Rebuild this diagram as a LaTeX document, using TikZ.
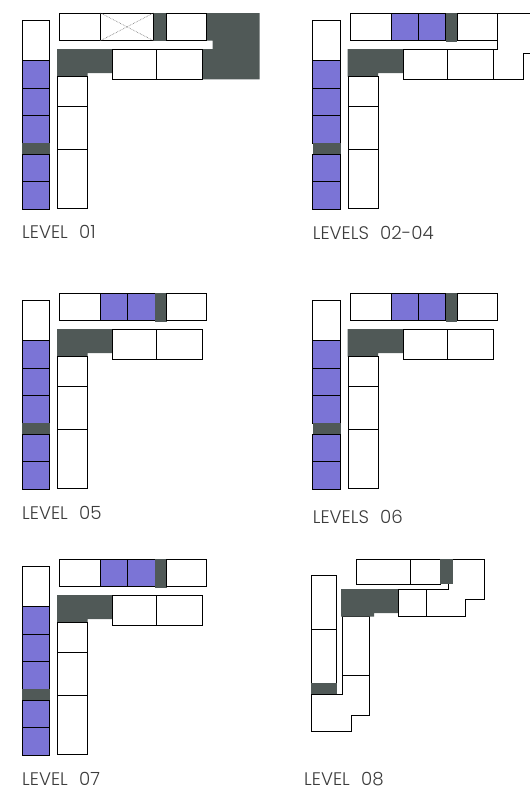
\documentclass[tikz,border=0pt]{standalone}
\usepackage{fontspec}
\setmainfont{Poppins Light}
\definecolor{unitblue}{HTML}{7B74D6}
\definecolor{coredark}{HTML}{505957}
\definecolor{labelgrey}{HTML}{3C3C3C}
\tikzset{
  unit/.style={draw=black,line width=0.8pt,fill=white},
  purpleunit/.style={draw=black,line width=0.8pt,fill=unitblue},
  core/.style={fill=coredark,draw=none},
  outline/.style={draw=black,line width=0.8pt},
  voidcross/.style={draw=black!55,line width=0.6pt,densely dotted},
  levellabel/.style={anchor=base west,inner sep=0pt,text=labelgrey,font=\fontsize{18.2}{20}\selectfont},
  % left column, inner column and corner core shared by levels 01 to 07
  pics/wing/.style={code={
    \path[unit] (22,20.3) rectangle (49.5,60.5);
    \path[purpleunit] (22,60.5) rectangle (49.5,88);
    \path[purpleunit] (22,88) rectangle (49.5,115);
    \path[purpleunit] (22,115) rectangle (49.5,143);
    \path[core] (22,143) rectangle (49.8,154.5);
    \path[purpleunit] (22,154.5) rectangle (49.5,181.5);
    \path[purpleunit] (22,181.5) rectangle (49.5,209.5);
    \path[core] (57,49) -- (112.5,49) -- (112.5,73) -- (87.5,73) -- (87.5,76.5) -- (57,76.5) -- cycle;
    \path[unit] (57.5,76.5) rectangle (87.3,106.5);
    \path[unit] (57.5,106.5) rectangle (87.3,149);
    \path[unit] (57.5,149) rectangle (87.3,208.5);
    \path[unit] (112.5,49) rectangle (156.5,79.5);
    \path[unit] (156.5,49) rectangle (202.5,79.5);
  }},
  pics/toprow/.style={code={
    \path[unit] (59.5,13) rectangle (100.5,40.7);
    \path[purpleunit] (100.5,13) rectangle (127.5,40.7);
    \path[purpleunit] (127.5,13) rectangle (155,40.7);
    \path[core] (155,12.6) rectangle (166.6,41.8);
    \path[unit] (166.6,13) rectangle (206.7,40.7);
  }}
}
\begin{document}
\begin{tikzpicture}[x=1pt,y=-1pt]
\useasboundingbox (0,0) rectangle (530,793);
% LEVEL 01
\path[core] (206.5,13) -- (259.5,13) -- (259.5,79.3) -- (202.5,79.3) -- (202.5,49) -- (212.5,49) -- (212.5,40.7) -- (206.5,40.7) -- cycle;
\pic at (0,0) {wing};
\path[core] (153.5,13) rectangle (166.6,40.7);
\path[unit] (59.5,13) rectangle (100.5,40.7);
\path[unit] (100.5,13) rectangle (153.5,40.7);
\path[voidcross] (100.5,13) -- (153.5,40.7) (100.5,40.7) -- (153.5,13);
\path[unit] (166.6,13) rectangle (206.7,40.7);
\node[levellabel] (l1) at (22,238) {LEVEL\hspace{0.62em}01};
% LEVELS 02-04
\pic at (290.7,0) {wing};
\pic at (290.7,0) {toprow};
\path[unit] (447.2,49) rectangle (493.3,79.5);
\path[outline] (497.4,13) -- (530,13);
\path[outline] (497.4,40.7) -- (497.4,49) -- (447.2,49);
\path[outline] (493.3,79.5) -- (523.7,79.5) -- (523.7,53.3) -- (530,53.3);
\node[levellabel] (l2) at (312.7,239) {LEVELS\hspace{0.62em}02-04};
% LEVEL 05
\pic at (0,280) {wing};
\pic at (0,280) {toprow};
\node[levellabel] (l5) at (22,519) {LEVEL\hspace{0.62em}05};
% LEVELS 06
\pic at (290.7,280) {wing};
\pic at (290.7,280) {toprow};
\node[levellabel] (l6) at (312.7,523.4) {LEVELS\hspace{0.62em}06};
% LEVEL 07
\pic at (0,546) {wing};
\pic at (0,546) {toprow};
\node[levellabel] (l7) at (22,785.7) {LEVEL\hspace{0.62em}07};
% LEVEL 08
\path[unit] (311.7,575.7) rectangle (336,694);
\path[outline] (311.7,629.3) -- (336,629.3);
\path[core] (311.3,683.3) rectangle (337,694);
\path[unit] (311.7,694) -- (342,694) -- (342,616.7) -- (369.3,616.7) -- (369.3,715) -- (351.7,715) -- (351.7,731) -- (311.7,731) -- cycle;
\path[outline] (342,675) -- (369.3,675);
\path[core] (341,589) -- (398.3,589) -- (398.3,613) -- (374,613) -- (374,616.7) -- (341,616.7) -- cycle;
\path[unit] (398.3,589.3) rectangle (426,616.7);
\path[unit] (426,589.3) -- (448.7,589.3) -- (448.7,583.3) -- (452.7,583.3) -- (452.7,559) -- (484.3,559) -- (484.3,599.7) -- (465.7,599.7) -- (465.7,616.7) -- (426,616.7) -- cycle;
\path[unit] (356.7,559) rectangle (410.7,584);
\path[unit] (410.7,559) rectangle (440,584);
\path[core] (440,559) rectangle (452.7,584);
\node[levellabel] (l8) at (304,785) {LEVEL\hspace{0.62em}08};
\end{tikzpicture}
\end{document}
